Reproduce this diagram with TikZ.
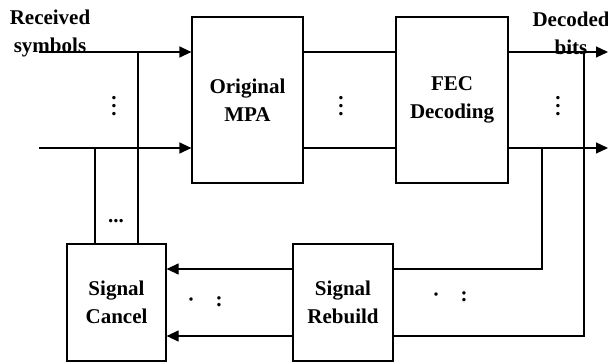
\documentclass[tikz,border=0pt]{standalone}
\usepackage{fontspec}
\setmainfont{Liberation Serif}
\usetikzlibrary{arrows.meta,positioning,calc}

\begin{document}
\begin{tikzpicture}[x=0.5pt,y=-0.5pt,line width=0.6pt,
    font=\fontsize{10.5}{14}\selectfont\bfseries,
    blk/.style={draw,inner sep=0pt,align=center},
    arr/.style={-{Triangle[length=6pt,width=5.5pt]}},
    dts/.style={inner sep=0pt}]
   \useasboundingbox (0,0) rectangle (608,362);
   % blocks
   \node[blk,minimum width=55.5pt,minimum height=83pt] (mpa) at (247.5,100) {Original\\MPA};
   \node[blk,minimum width=56pt,minimum height=83pt] (fec) at (452,100) {FEC\\Decoding};
   \node[blk,minimum width=49.5pt,minimum height=58.5pt] (cancel) at (116.5,302.5) {Signal\\Cancel};
   \node[blk,minimum width=50pt,minimum height=58.5pt] (rebuild) at (343,302.5) {Signal\\Rebuild};
   % ends and branch points
   \coordinate (in1) at (39,52);   \coordinate (in2) at (39,148);
   \coordinate (out1) at (608,52); \coordinate (out2) at (608,148);
   \coordinate (b1) at (138,52);   \coordinate (b2) at (95,148);
   \coordinate (c1) at (584,52);   \coordinate (c2) at (542,148);
   % forward paths
   \draw[arr] (in1) -- (mpa.west |- in1);
   \draw[arr] (in2) -- (mpa.west |- in2);
   \draw (mpa.east |- in1) -- (fec.west |- in1);
   \draw (mpa.east |- in2) -- (fec.west |- in2);
   \draw[arr] (fec.east |- out1) -- (out1);
   \draw[arr] (fec.east |- out2) -- (out2);
   % feedback
   \draw (b1) -- (b1 |- cancel.north);
   \draw (b2) -- (b2 |- cancel.north);
   \draw (c2) -- (c2 |- 0,269) -- (rebuild.east |- 0,269);
   \draw (c1) -- (c1 |- 0,336) -- (rebuild.east |- 0,336);
   \draw[arr] (rebuild.west |- 0,269) -- (cancel.east |- 0,269);
   \draw[arr] (rebuild.west |- 0,336) -- (cancel.east |- 0,336);
   % labels
   \node[align=center] (rx) at (50,33) {Received\\symbols};
   \node[align=center] (dec) at (571,33) {Decoded\\bits};
   \node[dts] (d1) at (114,100) {\vdots};
   \node[dts] (d2) at (341,100) {\vdots};
   \node[dts] (d3) at (558,100) {\vdots};
   \node[dts] (d4) at (116,221) {...};
   \node[dts] (d5) at (205,302) {·\quad:};
   \node[dts] (d6) at (450,297) {·\quad:};
\end{tikzpicture}
\end{document}
